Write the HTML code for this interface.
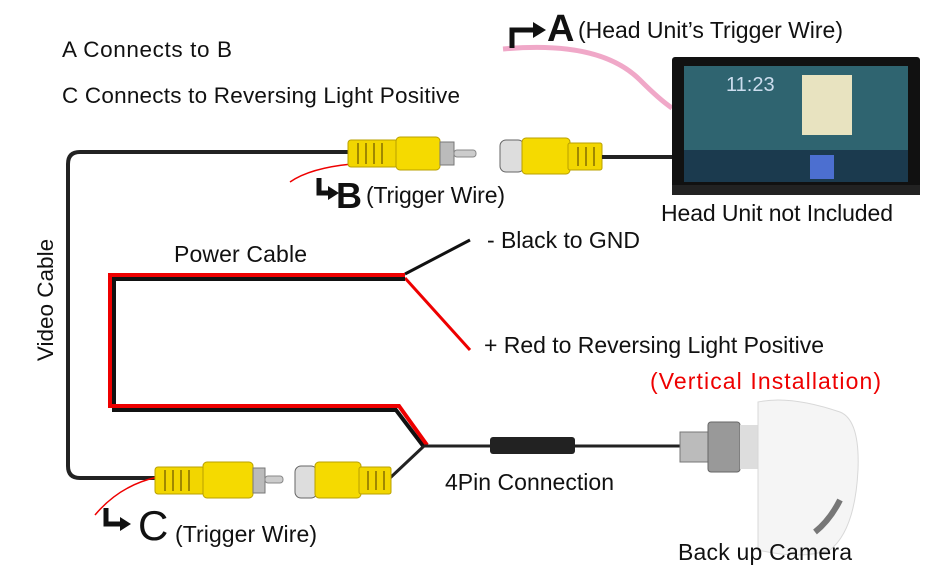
<!DOCTYPE html>
<html><head><style>
body{margin:0;background:#fff}
svg{display:block;font-family:"Liberation Sans",sans-serif}
</style></head><body>
<svg width="940" height="574" viewBox="0 0 940 574">
<text x="62" y="57" font-size="22.5" fill="#111" textLength="170">A Connects to B</text>
<text x="62" y="103" font-size="22.5" fill="#111" textLength="398">C Connects to Reversing Light Positive</text>
<path d="M350,152 H80 Q68,152 68,164 V466 Q68,478 80,478 H160" fill="none" stroke="#222" stroke-width="4"/>
<text transform="translate(53,300) rotate(-90)" font-size="22.5" text-anchor="middle" fill="#111">Video Cable</text>
<path d="M352,164 Q310,168 290,182" fill="none" stroke="#e00" stroke-width="1.5"/>
<rect x="348" y="140" width="50" height="27" rx="3" fill="#f2d600" stroke="#b9a000"/>
<rect x="396" y="137" width="44" height="33" rx="4" fill="#f5da00" stroke="#b9a000"/>
<g stroke="#a08800" stroke-width="2"><line x1="358" y1="143" x2="358" y2="164"/><line x1="366" y1="143" x2="366" y2="164"/><line x1="374" y1="143" x2="374" y2="164"/><line x1="382" y1="143" x2="382" y2="164"/></g>
<rect x="440" y="142" width="14" height="23" fill="#bbb" stroke="#777"/>
<rect x="454" y="150" width="22" height="7" rx="3" fill="#ccc" stroke="#888"/>
<rect x="500" y="140" width="24" height="32" rx="6" fill="#ddd" stroke="#666"/>
<rect x="522" y="138" width="48" height="36" rx="4" fill="#f5da00" stroke="#b9a000"/>
<rect x="568" y="143" width="34" height="27" rx="2" fill="#f2d600" stroke="#b9a000"/>
<g stroke="#a08800" stroke-width="2"><line x1="578" y1="147" x2="578" y2="166"/><line x1="586" y1="147" x2="586" y2="166"/><line x1="594" y1="147" x2="594" y2="166"/></g>
<line x1="602" y1="157" x2="672" y2="157" stroke="#222" stroke-width="4"/>
<path d="M503,49 Q600,40 640,80 Q660,100 672,108" fill="none" stroke="#f0a8c8" stroke-width="5"/>
<path d="M512,48 V30 H535" fill="none" stroke="#111" stroke-width="5"/>
<polygon points="533,22 546,30 533,38" fill="#111"/>
<text x="547" y="41" font-size="38" font-weight="bold" fill="#111">A</text>
<text x="578" y="38" font-size="23" fill="#111" textLength="265">(Head Unit’s Trigger Wire)</text>
<rect x="672" y="57" width="248" height="138" rx="3" fill="#111"/>
<rect x="684" y="66" width="224" height="116" fill="#2f6470"/>
<rect x="684" y="150" width="224" height="32" fill="#1b3a4e"/>
<rect x="802" y="75" width="50" height="60" fill="#e8e3c0"/>
<text x="726" y="91" font-size="20" fill="#cde">11:23</text>
<rect x="810" y="155" width="24" height="24" fill="#4c6fd0"/>
<rect x="672" y="185" width="248" height="10" fill="#222"/>
<text x="661" y="221" font-size="23" fill="#111" textLength="232">Head Unit not Included</text>
<path d="M319,178 V193 H330" fill="none" stroke="#111" stroke-width="5"/>
<polygon points="328,186 339,193 328,200" fill="#111"/>
<text x="336" y="208" font-size="36" font-weight="bold" fill="#111">B</text>
<text x="366" y="203" font-size="23" fill="#111" textLength="139">(Trigger Wire)</text>
<text x="174" y="262" font-size="23" fill="#111" textLength="133">Power Cable</text>
<path d="M405,274 L470,240" stroke="#111" stroke-width="3" fill="none"/>
<path d="M405,278 L470,350" stroke="#e00" stroke-width="3" fill="none"/>
<path d="M405,279 H114 V410 H396 L424,447" fill="none" stroke="#111" stroke-width="4"/>
<path d="M405,275 H110 V406 H399 L427,445" fill="none" stroke="#e00" stroke-width="4"/>
<text x="487" y="248" font-size="23" fill="#111" textLength="153">- Black to GND</text>
<text x="484" y="353" font-size="23" fill="#111" textLength="340">+ Red to Reversing Light Positive</text>
<text x="650" y="389" font-size="23" fill="#e00" textLength="231">(Vertical Installation)</text>
<line x1="424" y1="446" x2="690" y2="446" stroke="#222" stroke-width="3"/>
<path d="M424,446 L390,478" stroke="#222" stroke-width="3" fill="none"/>
<rect x="490" y="437" width="85" height="17" rx="3" fill="#222"/>
<text x="445" y="490" font-size="23" fill="#111" textLength="169">4Pin Connection</text>
<rect x="680" y="432" width="30" height="30" fill="#bbb" stroke="#777"/>
<rect x="708" y="422" width="32" height="50" rx="3" fill="#999" stroke="#666"/>
<rect x="740" y="425" width="20" height="44" fill="#ddd"/>
<path d="M758,402 Q790,395 840,412 Q860,420 858,470 Q855,530 830,550 Q800,560 758,550 Z" fill="#f5f5f5" stroke="#d8d8d8"/>
<path d="M840,500 Q830,520 815,532" stroke="#777" stroke-width="6" fill="none"/>
<text x="678" y="560" font-size="23" fill="#111" textLength="174">Back up Camera</text>
<path d="M158,477 Q120,485 95,515" fill="none" stroke="#e00" stroke-width="1.5"/>
<rect x="155" y="467" width="50" height="27" rx="3" fill="#f2d600" stroke="#b9a000"/>
<rect x="203" y="462" width="50" height="36" rx="4" fill="#f5da00" stroke="#b9a000"/>
<g stroke="#a08800" stroke-width="2"><line x1="165" y1="470" x2="165" y2="491"/><line x1="173" y1="470" x2="173" y2="491"/><line x1="181" y1="470" x2="181" y2="491"/><line x1="189" y1="470" x2="189" y2="491"/></g>
<rect x="253" y="468" width="12" height="25" fill="#bbb" stroke="#777"/>
<rect x="265" y="476" width="18" height="7" rx="3" fill="#ccc" stroke="#888"/>
<rect x="295" y="466" width="22" height="32" rx="6" fill="#ddd" stroke="#666"/>
<rect x="315" y="462" width="46" height="36" rx="4" fill="#f5da00" stroke="#b9a000"/>
<rect x="359" y="467" width="32" height="27" rx="2" fill="#f2d600" stroke="#b9a000"/>
<g stroke="#a08800" stroke-width="2"><line x1="368" y1="471" x2="368" y2="490"/><line x1="376" y1="471" x2="376" y2="490"/><line x1="384" y1="471" x2="384" y2="490"/></g>
<path d="M106,508 V524 H122" fill="none" stroke="#111" stroke-width="5"/>
<polygon points="120,517 131,524 120,531" fill="#111"/>
<text x="138" y="540" font-size="42" fill="#111">C</text>
<text x="175" y="542" font-size="23" fill="#111" textLength="142">(Trigger Wire)</text>
</svg>
</body></html>
